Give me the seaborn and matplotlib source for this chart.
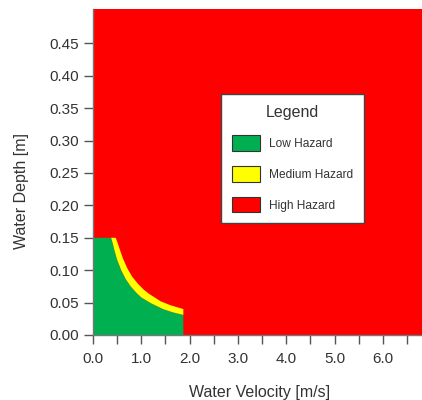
import matplotlib
matplotlib.use("Agg")
import matplotlib.pyplot as plt
import seaborn as sns
from matplotlib.patches import Patch

# Hazard classes
hazard_labels = ["Low Hazard", "Medium Hazard", "High Hazard"]
hazard_colors = ["#00B050", "#FFFF00", "#FF0000"]

# Depth cap of the low-hazard zone and velocity cap of the low/medium zones
depth_limit = 0.15
velocity_limit = 1.87

# Low / medium boundary (velocity m/s, depth m)
low_velocity = [0.375, 0.41, 0.45, 0.50, 0.59, 0.68, 0.78, 0.90, 1.00, 1.20, 1.45, 1.65, 1.87]
low_depth = [0.150, 0.141, 0.129, 0.116, 0.099, 0.086, 0.075, 0.065, 0.058, 0.049, 0.040, 0.035, 0.031]

# Medium / high boundary (velocity m/s, depth m)
med_velocity = [0.47, 0.51, 0.55, 0.62, 0.71, 0.81, 0.93, 1.05, 1.15, 1.40, 1.60, 1.87]
med_depth = [0.150, 0.142, 0.133, 0.118, 0.103, 0.090, 0.079, 0.070, 0.064, 0.052, 0.046, 0.040]

x_ticks = [0, 1, 2, 3, 4, 5, 6]
x_tick_labels = ["0.0", "1.0", "2.0", "3.0", "4.0", "5.0", "6.0"]
y_ticks = [0.00, 0.05, 0.10, 0.15, 0.20, 0.25, 0.30, 0.35, 0.40, 0.45]
y_tick_labels = ["0.00", "0.05", "0.10", "0.15", "0.20", "0.25", "0.30", "0.35", "0.40", "0.45"]

sns.set_style("ticks")
plt.rcParams["font.family"] = ["Liberation Sans", "DejaVu Sans"]

text_color = "#333333"
fig = plt.figure(figsize=(4.22, 4.00), dpi=100)
ax = fig.add_axes([0.2204, 0.1625, 0.7796, 0.815])

# High hazard everywhere else
ax.set_facecolor(hazard_colors[2])

# Low hazard region
green_x = [0, 0] + low_velocity + [velocity_limit]
green_y = [0, depth_limit] + low_depth + [0]
ax.fill(green_x, green_y, color=hazard_colors[0], lw=0, zorder=2)

# Medium hazard band
yellow_x = low_velocity + med_velocity[::-1]
yellow_y = low_depth + med_depth[::-1]
ax.fill(yellow_x, yellow_y, color=hazard_colors[1], lw=0, zorder=2)

ax.set_xlim(0, 6.81)
ax.set_ylim(0, 0.503)

ax.set_xticks(x_ticks)
ax.set_xticklabels(x_tick_labels)
ax.set_xticks([v + 0.5 for v in x_ticks], minor=True)
ax.set_yticks(y_ticks)
ax.set_yticklabels(y_tick_labels)

ax.tick_params(axis="both", which="both", length=6.5, width=1, color="#555555",
               labelsize=11, labelcolor=text_color)
ax.tick_params(axis="x", which="both", pad=6)
ax.tick_params(axis="y", which="both", pad=3.5)

for side in ["top", "right"]:
    ax.spines[side].set_visible(False)
for side in ["left", "bottom"]:
    ax.spines[side].set_color("#777777")
    ax.spines[side].set_linewidth(1)

ax.set_xlabel("Water Velocity [m/s]", fontsize=11.5, color=text_color)
ax.set_ylabel("Water Depth [m]", fontsize=11.5, color=text_color)
ax.xaxis.set_label_coords(0.505, -0.153)
ax.yaxis.set_label_coords(-0.195, 0.442)

handles = [Patch(facecolor=c, edgecolor="#333333", linewidth=0.8, label=l)
           for c, l in zip(hazard_colors, hazard_labels)]
leg = ax.legend(handles=handles, title="Legend", loc="upper left",
                bbox_to_anchor=(0.389, 0.739), borderaxespad=0,
                fontsize=8.6, title_fontsize=11.5,
                frameon=True, fancybox=False, framealpha=1, edgecolor="#444444",
                handlelength=2.35, handleheight=1.6, labelspacing=1.3,
                borderpad=0.9, handletextpad=0.75)
leg.get_frame().set_linewidth(1.0)
leg.get_title().set_color(text_color)
for t in leg.get_texts():
    t.set_color(text_color)
leg.set_zorder(5)

fig.savefig("out.png", dpi=100)
